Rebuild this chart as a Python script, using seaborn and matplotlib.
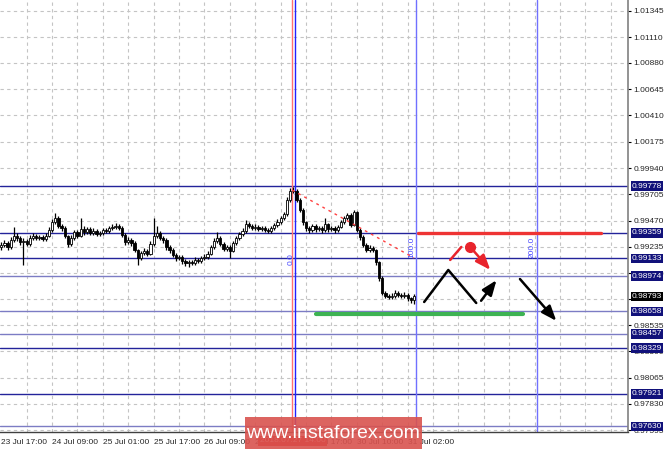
import numpy as np
import matplotlib
matplotlib.use("Agg")
import matplotlib.pyplot as plt
from matplotlib.patches import Rectangle
import seaborn as sns

# hourly closes (bar 0 = 23 Jul 17:00)
closes = [
    0.99251, 0.99269, 0.99233, 0.99296, 0.99332, 0.99314, 0.99278, 0.99287, 0.99260, 0.99314,
    0.99332, 0.99314, 0.99323, 0.99305, 0.99332, 0.99386, 0.99457, 0.99493, 0.99421, 0.99403,
    0.99332, 0.99260, 0.99314, 0.99368, 0.99332, 0.99394, 0.99368, 0.99394, 0.99359, 0.99377,
    0.99350, 0.99359, 0.99386, 0.99377, 0.99403, 0.99412, 0.99421, 0.99403, 0.99341, 0.99278,
    0.99296, 0.99269, 0.99207, 0.99135, 0.99180, 0.99198, 0.99171, 0.99260, 0.99332, 0.99359,
    0.99314, 0.99296, 0.99233, 0.99207, 0.99162, 0.99135, 0.99144, 0.99108, 0.99090, 0.99099,
    0.99090, 0.99118, 0.99108, 0.99135, 0.99144, 0.99171, 0.99233, 0.99287, 0.99314, 0.99260,
    0.99216, 0.99233, 0.99198, 0.99269, 0.99314, 0.99350, 0.99377, 0.99439, 0.99421, 0.99403,
    0.99412, 0.99394, 0.99403, 0.99386, 0.99377, 0.99403, 0.99430, 0.99457, 0.99493, 0.99528,
    0.99654, 0.99734, 0.99734, 0.99654, 0.99565, 0.99457, 0.99403, 0.99386, 0.99421, 0.99394,
    0.99403, 0.99386, 0.99439, 0.99394, 0.99403, 0.99386, 0.99412, 0.99457, 0.99493, 0.99520,
    0.99430, 0.99547, 0.99386, 0.99323, 0.99251, 0.99207, 0.99225, 0.99207, 0.99099, 0.98956,
    0.98822, 0.98796, 0.98787, 0.98796, 0.98822, 0.98805, 0.98796, 0.98805, 0.98778, 0.98760,
    0.98793,
]
highs = [
    0.99280, 0.99300, 0.99290, 0.99320, 0.99412, 0.99360, 0.99330, 0.99310, 0.99305, 0.99340,
    0.99360, 0.99350, 0.99345, 0.99340, 0.99355, 0.99410, 0.99480, 0.99538, 0.99510, 0.99440,
    0.99420, 0.99345, 0.99340, 0.99390, 0.99385, 0.99493, 0.99420, 0.99415, 0.99410, 0.99400,
    0.99395, 0.99380, 0.99405, 0.99400, 0.99425, 0.99440, 0.99445, 0.99440, 0.99420, 0.99355,
    0.99320, 0.99310, 0.99285, 0.99220, 0.99200, 0.99225, 0.99220, 0.99285, 0.99493, 0.99420,
    0.99375, 0.99330, 0.99310, 0.99250, 0.99225, 0.99180, 0.99165, 0.99160, 0.99125, 0.99120,
    0.99115, 0.99140, 0.99135, 0.99155, 0.99170, 0.99195, 0.99255, 0.99310, 0.99368, 0.99330,
    0.99275, 0.99255, 0.99250, 0.99290, 0.99335, 0.99370, 0.99400, 0.99475, 0.99460, 0.99440,
    0.99435, 0.99430, 0.99425, 0.99420, 0.99405, 0.99425, 0.99450, 0.99480, 0.99515, 0.99550,
    0.99680, 0.99760, 0.99770, 0.99750, 0.99670, 0.99580, 0.99470, 0.99420, 0.99440, 0.99435,
    0.99425, 0.99420, 0.99493, 0.99450, 0.99425, 0.99420, 0.99430, 0.99475, 0.99510, 0.99540,
    0.99535, 0.99565, 0.99560, 0.99400, 0.99340, 0.99270, 0.99250, 0.99245, 0.99220, 0.99110,
    0.98970, 0.98840, 0.98810, 0.98825, 0.98845, 0.98840, 0.98825, 0.98830, 0.98820, 0.98790,
    0.98810,
]
lows = [
    0.99205, 0.99230, 0.99210, 0.99215, 0.99280, 0.99290, 0.99250, 0.99073, 0.99240, 0.99245,
    0.99300, 0.99295, 0.99300, 0.99285, 0.99290, 0.99320, 0.99370, 0.99440, 0.99400, 0.99380,
    0.99315, 0.99235, 0.99245, 0.99300, 0.99310, 0.99320, 0.99345, 0.99350, 0.99340, 0.99340,
    0.99330, 0.99330, 0.99340, 0.99355, 0.99360, 0.99390, 0.99395, 0.99385, 0.99320, 0.99255,
    0.99260, 0.99245, 0.99185, 0.99073, 0.99115, 0.99160, 0.99150, 0.99160, 0.99245, 0.99315,
    0.99295, 0.99270, 0.99210, 0.99180, 0.99140, 0.99110, 0.99120, 0.99085, 0.99065, 0.99055,
    0.99070, 0.99075, 0.99090, 0.99095, 0.99120, 0.99130, 0.99160, 0.99220, 0.99270, 0.99240,
    0.99195, 0.99200, 0.99135, 0.99185, 0.99255, 0.99300, 0.99335, 0.99360, 0.99400, 0.99385,
    0.99385, 0.99375, 0.99380, 0.99365, 0.99355, 0.99360, 0.99390, 0.99415, 0.99440, 0.99475,
    0.99510, 0.99640, 0.99715, 0.99635, 0.99545, 0.99430, 0.99380, 0.99360, 0.99370, 0.99370,
    0.99375, 0.99360, 0.99370, 0.99370, 0.99375, 0.99360, 0.99370, 0.99400, 0.99440, 0.99475,
    0.99410, 0.99420, 0.99365, 0.99300, 0.99230, 0.99185, 0.99190, 0.99185, 0.99075, 0.98930,
    0.98800, 0.98775, 0.98765, 0.98770, 0.98780, 0.98785, 0.98775, 0.98780, 0.98755, 0.98730,
    0.98725,
]
first_open = 0.99233

time_labels = ["23 Jul 17:00", "24 Jul 09:00", "25 Jul 01:00", "25 Jul 17:00", "26 Jul 09:00",
               "27 Jul 01:00", "27 Jul 17:00", "30 Jul 10:00", "31 Jul 02:00"]
time_label_bars = [0, 16, 32, 48, 64, 80, 96, 112, 128]

price_ticks = [1.01345, 1.01110, 1.00880, 1.00645, 1.00410, 1.00175, 0.99940, 0.99705, 0.99470,
               0.99235, 0.99000, 0.98770, 0.98535, 0.98300, 0.98065, 0.97830, 0.97595]

levels_dark = [0.99778, 0.99359, 0.99133, 0.98329, 0.97921]
levels_light = [0.98974, 0.98658, 0.98457, 0.97630]
last_price = 0.98793

# fibonacci time zones (0, 100, 200) and the fan line from the top
fib_bars = [92.6, 130.6, 168.6]
fib_names = ["0.0", "100.0", "200.0"]
fib_line_bars = [91.6, 130.0]
fib_line_prices = [0.99743, 0.99136]

resistance = 0.99359
resistance_bars = [131.3, 189.0]
support = 0.98638
support_bars = [99.2, 164.4]

# forecast sketch
zigzag_bars = [133.2, 140.8, 149.6]
zigzag_prices = [0.98742, 0.99028, 0.98733]
up_arrow = [(150.6, 0.98733), (156.5, 0.98957)]
down_arrow = [(162.8, 0.98966), (175.4, 0.98554)]
red_stub = [(141.4, 0.99118), (144.9, 0.99234)]
red_arrow = [(147.7, 0.99234), (154.6, 0.99010)]

sns.set_style("white")
plt.rcParams["font.family"] = ["Liberation Sans", "DejaVu Sans"]

fig = plt.figure(figsize=(6.65, 4.49), dpi=100)
ax = fig.add_axes([0, 17 / 449, 628 / 665, 432 / 449])

n = len(closes)
idx = np.arange(n)
closes_arr = np.array(closes)
opens = np.concatenate([[first_open], closes_arr[:-1]])
bull = closes_arr >= opens
body_low = np.minimum(opens, closes_arr)
body_h = np.maximum(np.abs(closes_arr - opens), 0.00003)

ax.set_xlim(-0.4, 197.4)
ax.set_ylim(0.97579, 1.01443)

# grid
for p in price_ticks:
    ax.axhline(p, color="#c4c4c4", lw=0.8, ls=(0, (3, 3)), zorder=0)
for b in np.arange(8, 198, 8):
    ax.axvline(b, color="#c4c4c4", lw=0.8, ls=(0, (3, 3)), zorder=0)

for lv in levels_dark:
    ax.axhline(lv, color="#23239a", lw=1.0, zorder=1)
for lv in levels_light:
    ax.axhline(lv, color="#7c7cc4", lw=1.0, zorder=1)

# candles
ax.vlines(idx, lows, highs, color="black", lw=0.9, zorder=3)
ax.bar(idx[bull], body_h[bull], bottom=body_low[bull], width=0.72, color="white",
       edgecolor="black", linewidth=0.6, zorder=4)
ax.bar(idx[~bull], body_h[~bull], bottom=body_low[~bull], width=0.72, color="black",
       edgecolor="black", linewidth=0.6, zorder=4)

# fibonacci time zones
ax.axvline(fib_bars[0] - 0.95, color="#ff7070", lw=1.0, zorder=2)
ax.axvline(fib_bars[0], color="#2020ff", lw=1.0, zorder=2)
for b in fib_bars[1:]:
    ax.axvline(b, color="#7070ff", lw=1.0, zorder=2)
name_prices = [0.99130, 0.99230, 0.99230]
for b, nm, pr in zip(fib_bars, fib_names, name_prices):
    ax.text(b - 1.4, pr, nm, rotation=90, color="#4a4aff", fontsize=6,
            ha="center", va="center", zorder=5)
ax.plot(fib_line_bars, fib_line_prices, color="#ff4040", lw=1.0, ls=(0, (2, 3)), zorder=5)

# resistance / support
sns.lineplot(x=resistance_bars, y=[resistance, resistance], ax=ax, color="#ee3333", lw=2.4,
             zorder=6)
sns.lineplot(x=support_bars, y=[support, support], ax=ax, color="#3db352", lw=3, zorder=6)

# forecast
sns.lineplot(x=zigzag_bars, y=zigzag_prices, ax=ax, color="black", lw=1.8, sort=False, zorder=7)
for (x0, y0), (x1, y1) in [up_arrow, down_arrow]:
    ax.annotate("", xy=(x1, y1), xytext=(x0, y0),
                arrowprops=dict(arrowstyle="-|>,head_length=0.9,head_width=0.35",
                                color="black", lw=1.8), zorder=7)
ax.plot([p[0] for p in red_stub], [p[1] for p in red_stub], color="#e8242c", lw=1.8, zorder=7)
ax.plot([red_arrow[0][0]], [red_arrow[0][1]], "o", color="#e8242c", ms=7, zorder=7)
ax.annotate("", xy=red_arrow[1], xytext=red_arrow[0],
            arrowprops=dict(arrowstyle="-|>,head_length=0.9,head_width=0.35",
                            color="#e8242c", lw=1.8), zorder=7)

# axes styling
for s in ["top", "left"]:
    ax.spines[s].set_visible(False)
ax.spines["right"].set_color("#808080")
ax.spines["right"].set_linewidth(1.2)
ax.spines["bottom"].set_color("#404040")
ax.spines["bottom"].set_linewidth(1.0)

ax.yaxis.tick_right()
ax.set_yticks(price_ticks)
ax.set_yticklabels([f"{p:.5f}" for p in price_ticks])
ax.tick_params(axis="y", labelsize=6, length=2, pad=2, direction="out", color="black")
ax.set_xticks(time_label_bars)
ax.set_xticklabels(time_labels)
ax.tick_params(axis="x", labelsize=6, length=3, pad=2, direction="out", color="black")
for lab in ax.get_xticklabels():
    lab.set_ha("left")

tr = ax.get_yaxis_transform()
for lv in levels_dark + levels_light:
    ax.text(1.006, lv, f"{lv:.5f}", transform=tr, color="white", fontsize=6, ha="left",
            va="center", clip_on=False, zorder=10,
            bbox=dict(boxstyle="square,pad=0.15", fc="#11117a", ec="none"))
ax.text(1.006, last_price, f"{last_price:.5f}", transform=tr, color="white", fontsize=6,
        ha="left", va="center", clip_on=False, zorder=10,
        bbox=dict(boxstyle="square,pad=0.15", fc="black", ec="none"))

# time marker label and watermark
fig.text(260 / 665, 8 / 449, "2018.07.27 14:00", color="white", fontsize=6, ha="left",
         va="center", bbox=dict(boxstyle="square,pad=0.2", fc="#e01818", ec="none"))
fig.add_artist(Rectangle((245 / 665, 0), 177 / 665, 32 / 449, transform=fig.transFigure,
                         fc="#d9534f", ec="none", alpha=0.9, zorder=20))
fig.text(333 / 665, 15 / 449, "www.instaforex.com", color="white", fontsize=14,
         ha="center", va="center", zorder=21)

fig.savefig("out.png", dpi=100)
